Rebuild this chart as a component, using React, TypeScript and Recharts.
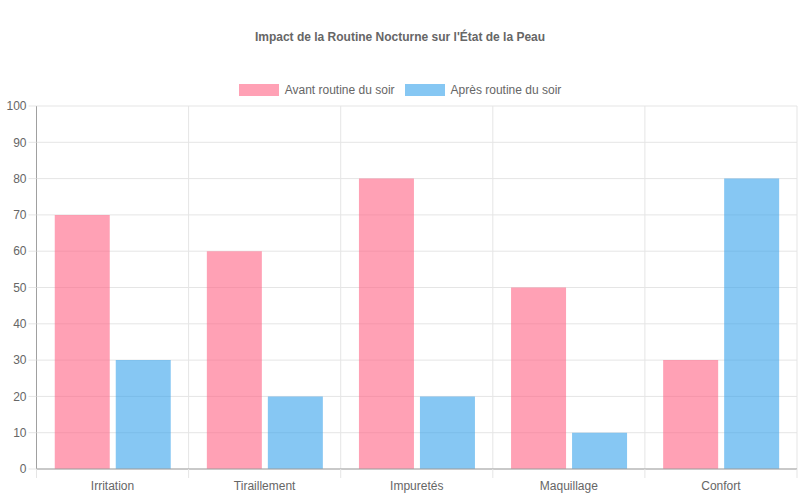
import React from 'react';
import { BarChart, Bar, XAxis, YAxis, CartesianGrid } from 'recharts';

const categories = ['Irritation', 'Tiraillement', 'Impuretés', 'Maquillage', 'Confort'];
const avantRoutine = [70, 60, 80, 50, 30];
const apresRoutine = [30, 20, 20, 10, 80];
const yTicks = [0, 10, 20, 30, 40, 50, 60, 70, 80, 90, 100];

const PINK = 'rgba(255, 99, 132, 0.6)';
const BLUE = 'rgba(54, 162, 235, 0.6)';
const GRID = '#e5e5e5';
const AXIS = '#a0a0a0';
const TEXT = '#666';
const TICK_SIZE = 8;
const TICK_MARGIN = 4;

const data = categories.map((name, i) => ({
  name,
  avant: avantRoutine[i],
  apres: apresRoutine[i],
}));

const legendItems = [
  { label: 'Avant routine du soir', color: PINK },
  { label: 'Après routine du soir', color: BLUE },
];

// grid lines sit on the edges between categories, not on their centres
const edgeLines = ({ offset }: any) =>
  Array.from({ length: categories.length + 1 }, (_, i) => offset.left + (offset.width * i) / categories.length);

// category label plus the little tick marks on the category edges
const CategoryTick = (props: any) => {
  const { x, y, payload, index, width, visibleTicksCount } = props;
  const half = width / visibleTicksCount / 2;
  const axisY = y - TICK_SIZE - TICK_MARGIN;
  return (
    <g>
      <line x1={x - half} x2={x - half} y1={axisY} y2={axisY + TICK_SIZE + 1} stroke={GRID} />
      {index === visibleTicksCount - 1 && (
        <line x1={x + half} x2={x + half} y1={axisY} y2={axisY + TICK_SIZE + 1} stroke={GRID} />
      )}
      <text x={x} y={y} dy="0.71em" textAnchor="middle" fill={TEXT} fontSize={12}>
        {payload.value}
      </text>
    </g>
  );
};

export default function App() {
  return (
    <div
      style={{
        position: 'absolute',
        left: 0,
        top: 0,
        width: 800,
        height: 500,
        background: '#fff',
        fontFamily: '"Liberation Sans", Arial, sans-serif',
      }}
    >
      <div
        style={{
          position: 'absolute',
          top: 29,
          left: 0,
          width: 800,
          textAlign: 'center',
          fontSize: 12,
          lineHeight: '16px',
          fontWeight: 'bold',
          color: TEXT,
        }}
      >
        Impact de la Routine Nocturne sur l'État de la Peau
      </div>
      <div
        style={{
          position: 'absolute',
          top: 82,
          left: 0,
          width: 800,
          display: 'flex',
          justifyContent: 'center',
          gap: 10,
          fontSize: 12,
          lineHeight: '16px',
          color: TEXT,
        }}
      >
        {legendItems.map((item) => (
          <div key={item.label} style={{ display: 'flex', alignItems: 'center', gap: 6 }}>
            <span style={{ display: 'inline-block', width: 40, height: 12, background: item.color }} />
            <span>{item.label}</span>
          </div>
        ))}
      </div>
      <BarChart
        width={800}
        height={500}
        data={data}
        margin={{ top: 106, right: 3, bottom: 1, left: 0.5 }}
        barCategoryGap="12%"
        barGap={6}
      >
        <CartesianGrid stroke={GRID} verticalCoordinatesGenerator={edgeLines} />
        <XAxis
          dataKey="name"
          interval={0}
          height={30}
          tickLine={false}
          tickSize={TICK_SIZE}
          tickMargin={TICK_MARGIN}
          axisLine={{ stroke: AXIS }}
          tick={<CategoryTick />}
        />
        <YAxis
          domain={[0, 100]}
          ticks={yTicks}
          width={36}
          tickSize={8}
          tickMargin={2}
          tickLine={{ stroke: GRID }}
          axisLine={{ stroke: AXIS }}
          tick={{ fill: TEXT, fontSize: 12 }}
        />
        <Bar dataKey="avant" name="Avant routine du soir" fill={PINK} isAnimationActive={false} />
        <Bar dataKey="apres" name="Après routine du soir" fill={BLUE} isAnimationActive={false} />
      </BarChart>
    </div>
  );
}
